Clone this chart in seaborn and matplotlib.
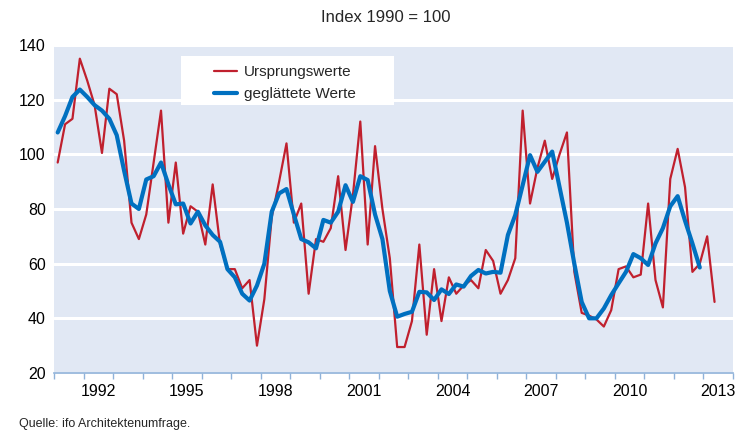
import numpy as np
import pandas as pd
import matplotlib
matplotlib.use("Agg")
import matplotlib.pyplot as plt
from matplotlib.patches import Rectangle
import seaborn as sns

# Ursprungswerte, quarterly from 1991Q1
ursprung = [97, 111, 113, 135, 127, 118, 100.5, 124, 122, 105,
            75, 69, 78, 97, 116, 75, 97, 71, 81, 79,
            67, 89, 67, 58, 58, 51, 54, 30, 47, 77,
            90, 104, 75, 82, 49, 69, 68, 73, 92, 65,
            85, 112, 67, 103, 80, 62, 29.5, 29.5, 39, 67,
            34, 58, 39, 55, 49, 52, 54, 51, 65, 61,
            49, 54, 62, 116, 82, 95, 105, 91, 100, 108,
            57, 42, 41, 39.6, 37, 43, 58, 59, 55, 56,
            82, 54, 44, 91, 102, 88, 57, 60, 70, 46]

# geglaettete Werte (centered, ends two quarters earlier)
geglaettet = [108, 114, 121, 123.7, 121, 118, 116, 113, 107, 94,
              82, 80, 90.8, 92, 97, 89, 81.7, 82, 74.7, 79,
              74, 70.5, 68, 58, 55, 49, 46.5, 52, 60, 79,
              85.7, 87.3, 78, 69, 67.8, 65.6, 76, 75, 79, 88.7,
              82.6, 92, 90.6, 78, 69, 50, 40.6, 41.6, 42.4, 49.7,
              49.5, 46.7, 50.6, 48.9, 52.4, 51.6, 55.5, 57.7, 56.4, 57,
              56.7, 70.5, 77.8, 88.7, 99.7, 93.6, 97.3, 101, 88, 75,
              60, 46, 40, 40, 43.6, 48.5, 52.8, 57, 63.5, 62,
              59.5, 67.4, 73, 81, 84.7, 75.7, 67.4, 58.6]

jahres_labels = list(range(1992, 2014, 3))

quartale = pd.period_range("1991Q1", periods=len(ursprung), freq="Q")
df_u = pd.DataFrame({"zeit": quartale.year + (quartale.quarter - 0.5) / 4,
                     "wert": ursprung})
df_g = pd.DataFrame({"zeit": df_u["zeit"][:len(geglaettet)],
                     "wert": geglaettet})

sns.set_theme(style="darkgrid", rc={"axes.facecolor": "#E1E8F4",
                                    "grid.color": "white",
                                    "grid.linewidth": 2.2})
plt.rcParams["font.family"] = ["Liberation Sans", "DejaVu Sans"]

fig = plt.figure(figsize=(7.48, 4.36), dpi=100)
ax = fig.add_axes([54 / 748, 1 - 373 / 436, 679 / 748, 328 / 436])

sns.lineplot(data=df_u, x="zeit", y="wert", ax=ax, color="#C0202E",
             lw=1.6, label="Ursprungswerte")
sns.lineplot(data=df_g, x="zeit", y="wert", ax=ax, color="#0070C0",
             lw=3.0, label="geglättete Werte")

ax.set_xlim(1991, 2014)
ax.set_ylim(20, 140)
ax.set_yticks(range(20, 141, 20))
ax.set_xticks(range(1991, 2015))
ax.set_xticklabels([])
ax.set_xticks([j + 0.5 for j in jahres_labels], minor=True)
ax.set_xticklabels([str(j) for j in jahres_labels], minor=True)
ax.grid(axis="x", which="both", visible=False)
ax.tick_params(axis="x", which="major", direction="out", length=4,
               width=1, color="#8FB2D9", bottom=True)
ax.tick_params(axis="x", which="minor", length=0, labelsize=11.5,
               pad=8, colors="black")
ax.tick_params(axis="y", length=0, labelsize=11.5, pad=6, colors="black")
ax.set_xlabel("")
ax.set_ylabel("")
for s in ["top", "right", "left"]:
    ax.spines[s].set_visible(False)
ax.spines["bottom"].set_visible(True)
ax.spines["bottom"].set_color("#8FB2D9")
ax.spines["bottom"].set_linewidth(1.2)

# Legend box
x0 = (181 - 54) / 679
y1 = (373 - 56) / 328
ax.add_patch(Rectangle((x0, (373 - 105) / 328), 213 / 679, 49 / 328,
                       transform=ax.transAxes, facecolor="white",
                       edgecolor="none", zorder=3))
leg = ax.legend(loc="upper left", bbox_to_anchor=(x0 + 0.03, y1 + 0.01),
                frameon=False, fontsize=11, handlelength=1.5,
                handletextpad=0.5, labelspacing=0.55, borderpad=0.3)
leg.set_zorder(4)

fig.text(386 / 748, 1 - 17 / 436, "Index 1990 = 100", ha="center",
         va="center", fontsize=12)
fig.text(19 / 748, 1 - 424 / 436, "Quelle: ifo Architektenumfrage.",
         ha="left", va="center", fontsize=9)

fig.savefig("out.png", dpi=100)
